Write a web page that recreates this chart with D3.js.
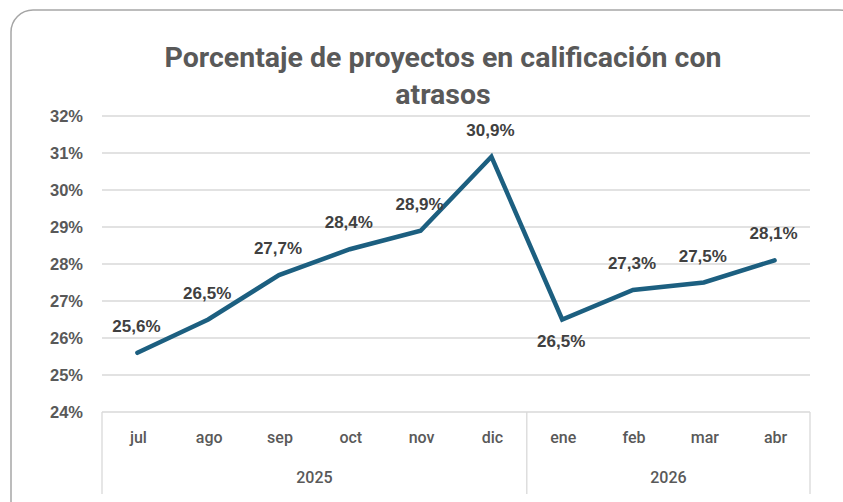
<!DOCTYPE html>
<html>
<head>
<meta charset="utf-8">
<script src="https://cdn.jsdelivr.net/npm/d3@7"></script>
<style>
  html, body { margin: 0; padding: 0; background: #fff; }
  svg { display: block; }
</style>
</head>
<body>
<div id="chart"></div>
<script>
var months = ["jul", "ago", "sep", "oct", "nov", "dic", "ene", "feb", "mar", "abr"];
var years = ["2025", "2025", "2025", "2025", "2025", "2025", "2026", "2026", "2026", "2026"];
var values = [25.6, 26.5, 27.7, 28.4, 28.9, 30.9, 26.5, 27.3, 27.5, 28.1];
var labelBelow = [false, false, false, false, false, false, true, false, false, false];
var yTicks = [24, 25, 26, 27, 28, 29, 30, 31, 32];

var width = 843, height = 502;
var plotLeft = 102, plotRight = 810, plotTop = 116, plotBottom = 412;

var svg = d3.select("#chart").append("svg")
  .attr("width", width)
  .attr("height", height);

// outer frame
svg.append("rect")
  .attr("x", 11).attr("y", 10)
  .attr("width", 850).attr("height", 520)
  .attr("rx", 22).attr("ry", 22)
  .attr("fill", "#fff")
  .attr("stroke", "#a6a6a6")
  .attr("stroke-width", 1.5);

var x = d3.scaleBand().domain(d3.range(months.length)).range([plotLeft, plotRight]).padding(0);
var y = d3.scaleLinear().domain([24, 32]).range([plotBottom, plotTop]);

// gridlines
svg.append("g").selectAll("line")
  .data(yTicks.slice(1))
  .enter().append("line")
  .attr("x1", plotLeft).attr("x2", plotRight)
  .attr("y1", function(d) { return y(d); })
  .attr("y2", function(d) { return y(d); })
  .attr("stroke", "#d9d9d9")
  .attr("stroke-width", 1.3);

// y labels
svg.append("g").selectAll("text")
  .data(yTicks)
  .enter().append("text")
  .attr("x", 83)
  .attr("y", function(d) { return y(d); })
  .attr("dy", "0.35em")
  .attr("text-anchor", "end")
  .attr("font-family", "Liberation Sans, Arial, sans-serif")
  .attr("font-weight", "bold")
  .attr("font-size", 16.5)
  .attr("fill", "#595959")
  .text(function(d) { return d + "%"; });

// category axis box
var axisG = svg.append("g").attr("stroke", "#d9d9d9").attr("stroke-width", 1.3);
axisG.append("line").attr("x1", plotLeft).attr("x2", plotRight).attr("y1", plotBottom).attr("y2", plotBottom);
var yearGroups = d3.groups(d3.range(months.length), function(i) { return years[i]; });
var bounds = [plotLeft];
yearGroups.forEach(function(g) {
  bounds.push(x(g[1][g[1].length - 1]) + x.bandwidth());
});
axisG.selectAll("line.v")
  .data(bounds)
  .enter().append("line")
  .attr("class", "v")
  .attr("x1", function(d) { return d; })
  .attr("x2", function(d) { return d; })
  .attr("y1", plotBottom).attr("y2", 494);

var condensed = "Roboto, 'Liberation Sans Narrow', sans-serif";

svg.append("g").selectAll("text")
  .data(months)
  .enter().append("text")
  .attr("x", function(d, i) { return x(i) + x.bandwidth() / 2 + 1; })
  .attr("y", 443)
  .attr("text-anchor", "middle")
  .attr("font-family", condensed)
  .attr("font-weight", 500)
  .attr("font-size", 16)
  .attr("fill", "#595959")
  .text(function(d) { return d; });

svg.append("g").selectAll("text")
  .data(yearGroups)
  .enter().append("text")
  .attr("x", function(g) {
    var a = x(g[1][0]), b = x(g[1][g[1].length - 1]) + x.bandwidth();
    return (a + b) / 2;
  })
  .attr("y", 483)
  .attr("text-anchor", "middle")
  .attr("font-family", condensed)
  .attr("font-weight", 500)
  .attr("font-size", 16)
  .attr("fill", "#595959")
  .text(function(g) { return g[0]; });

// line
var line = d3.line()
  .x(function(d, i) { return x(i) + x.bandwidth() / 2; })
  .y(function(d) { return y(d); });

svg.append("path")
  .datum(values)
  .attr("d", line)
  .attr("fill", "none")
  .attr("stroke", "#1c5f80")
  .attr("stroke-width", 4.5)
  .attr("stroke-linejoin", "miter")
  .attr("stroke-linecap", "round");

// data labels
svg.append("g").selectAll("text")
  .data(values)
  .enter().append("text")
  .attr("x", function(d, i) { return x(i) + x.bandwidth() / 2 - 1; })
  .attr("y", function(d, i) { return labelBelow[i] ? y(d) + 27 : y(d) - 21; })
  .attr("text-anchor", "middle")
  .attr("font-family", "Liberation Sans, Arial, sans-serif")
  .attr("font-weight", "bold")
  .attr("font-size", 17)
  .attr("fill", "#404040")
  .text(function(d) { return d.toFixed(1).replace(".", ",") + "%"; });

// title
var title = svg.append("text")
  .attr("text-anchor", "middle")
  .attr("font-family", condensed)
  .attr("font-weight", "bold")
  .attr("font-size", 28.5)
  .attr("fill", "#595959");
title.append("tspan").attr("x", 443).attr("y", 67).text("Porcentaje de proyectos en calificación con");
title.append("tspan").attr("x", 443).attr("y", 104).text("atrasos");
</script>
</body>
</html>
